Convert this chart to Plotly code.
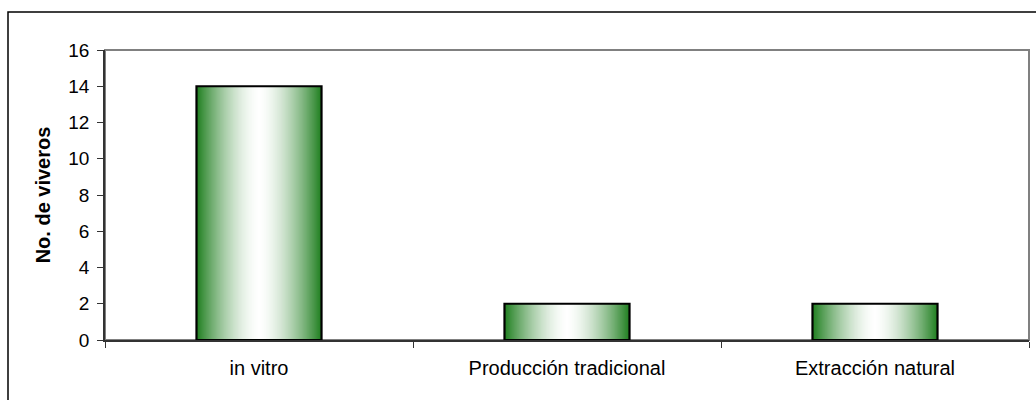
import plotly.graph_objects as go

# Nursery counts by propagation method
categorias = ["in vitro", "Producción tradicional", "Extracción natural"]
viveros = [14, 2, 2]
ticks_y = [0, 2, 4, 6, 8, 10, 12, 14, 16]

BAR_W = 0.406          # bar width in category units
N_STEPS = 60           # nested layers used to shade the cylinder-like fill
EDGE = (34, 128, 34)   # dark green at the bar edges
CENTER = (255, 255, 255)
GAMMA = 1.6

fig = go.Figure()

# Nested, centered bars from widest (dark) to narrowest (white) build a
# horizontal green-white-green gradient inside each bar.
for k in range(N_STEPS):
    frac = 1 - k / N_STEPS          # 1 at the edge, ->0 at the center
    mix = frac ** GAMMA
    col = tuple(round(CENTER[c] + (EDGE[c] - CENTER[c]) * mix) for c in range(3))
    fig.add_trace(go.Bar(
        x=categorias, y=viveros,
        width=BAR_W * frac,
        marker=dict(color="rgb(%d,%d,%d)" % col, line=dict(width=0)),
        hoverinfo="skip", showlegend=False,
    ))

# Black outline on top
fig.add_trace(go.Bar(
    x=categorias, y=viveros, width=BAR_W,
    marker=dict(color="rgba(0,0,0,0)", line=dict(color="black", width=2.2)),
    hoverinfo="skip", showlegend=False,
))

font_main = "Liberation Sans, Arial, sans-serif"

fig.update_layout(
    width=1036, height=400,
    margin=dict(l=105, r=7, t=50, b=60),
    barmode="overlay",
    plot_bgcolor="white", paper_bgcolor="white",
    font=dict(family=font_main, size=18, color="black"),
    xaxis=dict(
        type="category",
        showline=True, linecolor="#333333", linewidth=1.5,
        ticks="outside", tickson="boundaries", ticklen=6, tickcolor="#333333",
        tickwidth=1.2,
        tickfont=dict(size=20), ticklabelstandoff=9,
        showgrid=False, zeroline=False,
    ),
    yaxis=dict(
        range=[0, 16], tickvals=ticks_y,
        showline=True, linecolor="#333333", linewidth=1.5,
        ticks="outside", ticklen=6, tickcolor="#333333", tickwidth=1.2,
        tickfont=dict(size=19), ticklabelstandoff=4,
        showgrid=False, zeroline=False,
        title=dict(text="<b>No. de viveros</b>", font=dict(size=20), standoff=12),
    ),
    shapes=[
        # gray frame of the plot area (top and right remain visible)
        dict(type="rect", xref="paper", yref="paper", x0=0, y0=0, x1=1, y1=1,
             line=dict(color="#808080", width=2), layer="below"),
        # outer chart border
        dict(type="rect", xref="paper", yref="paper",
             x0=(8 - 105) / 924, y0=-0.4, x1=1.2, y1=1 + (50 - 12) / 290,
             line=dict(color="black", width=1.5), layer="below"),
    ],
)

fig.write_html("out.html")
